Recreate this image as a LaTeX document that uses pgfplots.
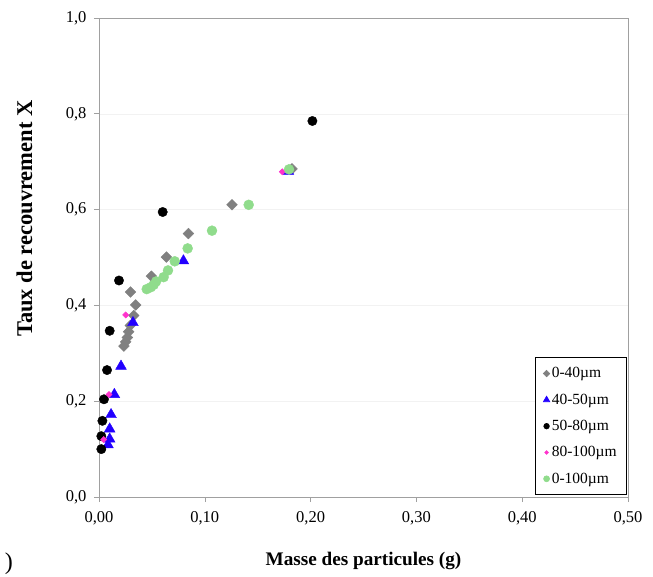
\documentclass[border=0pt]{standalone}
\usepackage{fontspec}
\setmainfont{Liberation Serif}
\usepackage{pgfplots}
\pgfplotsset{compat=1.18}
\definecolor{cgrey}{HTML}{808080}
\definecolor{cblue}{HTML}{2200FF}
\definecolor{cpink}{HTML}{FF33CC}
\definecolor{cgreen}{HTML}{90DC8C}
\definecolor{caxis}{HTML}{A0A0A0}
\begin{document}
\begin{tikzpicture}
\path[use as bounding box] (-99pt,-79pt) rectangle (554pt,497pt);
\begin{axis}[
  name=ax, scale only axis, width=529pt, height=479pt,
  xmin=0, xmax=0.5, ymin=0, ymax=1,
  xtick={0,0.1,0.2,0.3,0.4,0.5}, ytick={0,0.2,0.4,0.6,0.8,1},
  xtick pos=left, ytick pos=left, tick align=outside,
  major tick length=5pt,
  tick style={draw=caxis, line width=0.6pt},
  axis line style={draw=caxis, line width=0.8pt},
  ymajorgrids, major grid style={draw=gray!10, line width=0.5pt},
  /pgf/number format/assume math mode=true,
  xticklabel style={/pgf/number format/.cd, use comma, fixed, fixed zerofill, precision=2, /tikz/.cd, yshift=-6pt},
  yticklabel style={/pgf/number format/.cd, use comma, fixed, fixed zerofill, precision=1, /tikz/.cd, xshift=-4pt},
  ticklabel style={font=\fontsize{16.5}{18}\selectfont},
  xlabel={Masse des particules (g)},
  ylabel={Taux de recouvrement X},
  xlabel style={at={(rel axis cs:0.5,-0.133)}, anchor=center, font=\bfseries\fontsize{19.2}{22}\selectfont},
  ylabel style={at={(rel axis cs:-0.141,0.581)}, anchor=center, font=\bfseries\fontsize{22.5}{25}\selectfont},
  legend style={at={(rel axis cs:1,0)}, anchor=south east, xshift=-1pt, yshift=2pt,
    draw=black, line width=0.6pt, font=\fontsize{15.5}{17}\selectfont,
    row sep=10.5pt, inner xsep=8pt, inner ysep=8pt},
  legend cell align=left,
  legend image code/.code={\draw[#1, /tikz/every mark/.append style={scale=0.6}] plot coordinates {(0.15cm,0cm)};},
]
\addplot[only marks, mark=square*, mark size=3.8pt, color=cgrey, mark options={rotate=45}] table {
0.0236 0.315
0.0252 0.324
0.0268 0.333
0.0280 0.345
0.0295 0.358
0.0328 0.379
0.0347 0.401
0.0297 0.428
0.0495 0.461
0.0637 0.501
0.0845 0.550
0.1257 0.610
0.1824 0.685
};
\addlegendentry{0-40µm}
\addplot[only marks, mark=triangle*, mark size=6.2pt, color=cblue] table {
0.0085 0.109
0.0101 0.121
0.0101 0.142
0.0114 0.172
0.0145 0.214
0.0208 0.273
0.0321 0.364
0.0798 0.493
0.179 0.680
};
\addlegendentry{40-50µm}
\addplot[only marks, mark=*, mark size=4.7pt, color=black] table {
0.0022 0.100
0.0022 0.127
0.0032 0.159
0.0047 0.204
0.0076 0.265
0.0101 0.347
0.0189 0.452
0.0602 0.595
0.2017 0.785
};
\addlegendentry{50-80µm}
\addplot[only marks, mark=square*, mark size=2.2pt, color=cpink, mark options={rotate=45}] table {
0.0044 0.120
0.0095 0.214
0.0252 0.380
0.1733 0.679
};
\addlegendentry{80-100µm}
\addplot[only marks, mark=*, mark size=5pt, color=cgreen] table {
0.0451 0.434
0.0490 0.438
0.0517 0.443
0.0540 0.450
0.0611 0.459
0.0652 0.473
0.0716 0.492
0.0838 0.519
0.1068 0.556
0.1415 0.610
0.1796 0.684
};
\addlegendentry{0-100µm}
\end{axis}
\node[font=\fontsize{24}{26}\selectfont, anchor=east, inner sep=0pt] at (-86pt,-67pt) {)};
\end{tikzpicture}
\end{document}
